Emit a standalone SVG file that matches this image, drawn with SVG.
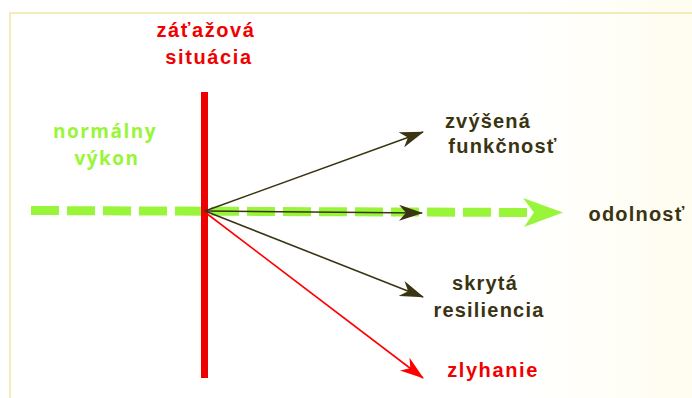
<svg xmlns="http://www.w3.org/2000/svg" width="692" height="398" viewBox="0 0 692 398">
  <defs>
    <linearGradient id="bg" x1="0" y1="0" x2="1" y2="0">
      <stop offset="0" stop-color="#ffffff"/>
      <stop offset="0.75" stop-color="#ffffff"/>
      <stop offset="1" stop-color="#fffdf0"/>
    </linearGradient>
    <marker id="headDark" viewBox="0 0 24 16" refX="23" refY="8" markerWidth="24" markerHeight="16" markerUnits="userSpaceOnUse" orient="auto">
      <path d="M0,0 L24,8 L0,16 L7,8 Z" fill="#3a3412"/>
    </marker>
    <marker id="headRed" viewBox="0 0 24 16" refX="23" refY="8" markerWidth="24" markerHeight="16" markerUnits="userSpaceOnUse" orient="auto">
      <path d="M0,0 L24,8 L0,16 L7,8 Z" fill="#ff0000"/>
    </marker>
  </defs>
  <style>
    .lbl { font-family: "Liberation Sans", Arial, sans-serif; font-weight: bold; font-size: 20px; text-anchor: middle; }
    .red { fill: #f00000; letter-spacing: 1.6px; }
    .dark { fill: #3a3412; letter-spacing: 1.2px; }
    .green { font-family: "Open Sans", "Liberation Sans", sans-serif; font-weight: bold; font-size: 19px; text-anchor: middle; fill: #99f53a; letter-spacing: 1.5px; }
    .conn { fill: none; stroke: #3a3412; stroke-width: 1.6; }
  </style>

  <!-- page background and frame -->
  <rect x="0" y="0" width="692" height="398" fill="url(#bg)"/>
  <path d="M10,398 V13 H692" fill="none" stroke="#f5ebb8" stroke-width="2"/>

  <!-- dashed baseline: normal performance leading to resilience -->
  <g id="baseline">
    <line x1="31" y1="210.5" x2="527" y2="212.5" stroke="#99f53a" stroke-width="9" stroke-dasharray="28 8"/>
    <polygon points="523,198 563,212.5 524,227 534,212.5" fill="#99f53a"/>
  </g>

  <!-- stress event -->
  <g id="stress">
    <rect x="201" y="92" width="7" height="286" fill="#ee0000"/>
    <text class="lbl red" x="206" y="37">záťažová</text>
    <text class="lbl red" x="209" y="64">situácia</text>
  </g>

  <g id="normal">
    <text class="green" x="105" y="138">normálny</text>
    <text class="green" x="107" y="165">výkon</text>
  </g>

  <!-- outcome arrows -->
  <g id="connectors">
    <line class="conn" x1="205" y1="211" x2="423" y2="132" marker-end="url(#headDark)"/>
    <line class="conn" x1="205" y1="211" x2="422" y2="213" marker-end="url(#headDark)"/>
    <line class="conn" x1="205" y1="211" x2="423" y2="297" marker-end="url(#headDark)"/>
    <line x1="206" y1="213" x2="423" y2="378" stroke="#ff0000" stroke-width="1.6" marker-end="url(#headRed)"/>
  </g>

  <g id="increased">
    <text class="lbl dark" x="488" y="128">zvýšená</text>
    <text class="lbl dark" x="503" y="153">funkčnosť</text>
  </g>

  <g id="resilience">
    <text class="lbl dark" x="637" y="221">odolnosť</text>
  </g>

  <g id="hidden">
    <text class="lbl dark" x="485" y="290">skrytá</text>
    <text class="lbl dark" x="489" y="317">resiliencia</text>
  </g>

  <g id="failure">
    <text class="lbl red" x="493" y="377">zlyhanie</text>
  </g>
</svg>
